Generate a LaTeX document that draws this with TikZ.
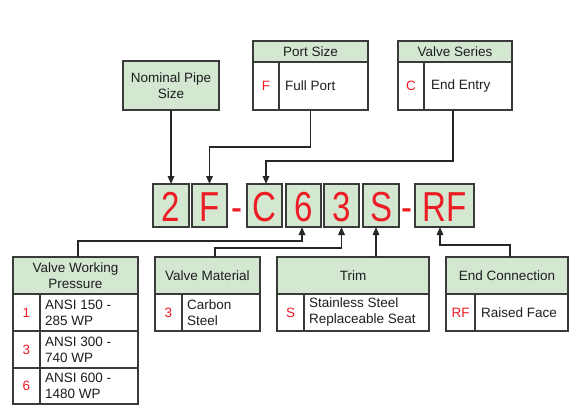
\documentclass[tikz,border=0pt]{standalone}
\usepackage{fontspec}
\setmainfont{Liberation Sans}
\usetikzlibrary{arrows.meta}
\definecolor{hdr}{HTML}{D3E7D1}
\definecolor{codered}{HTML}{EC1C24}
\definecolor{edge}{HTML}{3A3A3A}
\definecolor{ink}{HTML}{1E1E1E}
\newcommand{\cellat}[7]{%
  \pgfmathsetmacro{\cx}{(#3+#5)/2}\pgfmathsetmacro{\cy}{(#4+#6)/2}%
  \pgfmathsetmacro{\cw}{#5-#3}\pgfmathsetmacro{\ch}{#6-#4}%
  \node[#1, minimum width=\cw pt, minimum height=\ch pt] (#2) at (\cx,\cy) {#7};}
\newcommand{\bigch}[1]{\scalebox{1}[1.27]{\fontsize{33}{33}\selectfont #1}}
\tikzset{
  x=1pt, y=-1pt,
  cell/.style={draw=edge, line width=1.6pt, inner sep=0pt, outer sep=0pt, fill=white,
    text=ink, align=center, font=\fontsize{13.5}{16}\selectfont},
  hcell/.style={cell, fill=hdr},
  frame/.style={inner sep=0pt, outer sep=0pt},
  code/.style={text=codered, font=\fontsize{13.5}{16}\selectfont, inner sep=0pt},
  desc/.style={text=ink, font=\fontsize{13.5}{16}\selectfont, anchor=west, align=left, inner sep=0pt},
  letter/.style={text=codered, inner sep=0pt, anchor=base},
  conn/.style={draw=black!85, line width=1.6pt},
  arr/.style={conn, -{Triangle[length=8pt,width=6.5pt]}},
}
\begin{document}
\begin{tikzpicture}
\useasboundingbox (0,0) rectangle (580,412);

% ---- Nominal Pipe Size
\cellat{hcell}{nps}{123}{61}{219}{110}{Nominal Pipe\\Size}

% ---- Port Size
\cellat{frame}{portsz}{253}{41}{368}{110}{}
\cellat{hcell}{portH}{253}{41}{368}{62}{Port Size}
\cellat{cell}{portC}{253}{62}{279}{110}{}
\cellat{cell}{portD}{279}{62}{368}{110}{}
\node[code] (portCt) at (portC.center) {F};
\node[desc] (portDt) at (285,86) {Full Port};

% ---- Valve Series
\cellat{frame}{series}{398}{41}{512}{110}{}
\cellat{hcell}{serH}{398}{41}{512}{62}{Valve Series}
\cellat{cell}{serC}{398}{62}{424}{110}{}
\cellat{cell}{serD}{424}{62}{512}{110}{}
\node[code] (serCt) at (serC.center) {C};
\node[desc] (serDt) at (431,86) {End Entry};

% ---- Code boxes
\cellat{hcell}{d2}{153}{184}{189}{227}{}
\cellat{hcell}{dF}{192}{184}{227}{227}{}
\cellat{hcell}{dC}{247}{184}{282}{227}{}
\cellat{hcell}{d6}{286}{184}{321}{227}{}
\cellat{hcell}{d3}{324}{184}{359}{227}{}
\cellat{hcell}{dS}{363}{184}{399}{227}{}
\cellat{hcell}{dRF}{415}{184}{474}{227}{}
\node[letter] (l2) at (171,221) {\bigch{2}};
\node[letter] (lF) at (209.5,221) {\bigch{F}};
\node[letter] (dash1) at (237,221) {\bigch{-}};
\node[letter] (lC) at (264.5,221) {\bigch{C}};
\node[letter] (l6) at (303.5,221) {\bigch{6}};
\node[letter] (l3) at (341.5,221) {\bigch{3}};
\node[letter] (lS) at (381,221) {\bigch{S}};
\node[letter] (dash2) at (407,221) {\bigch{-}};
\node[letter] (lRF) at (444.5,221) {\bigch{RF}};

% ---- Valve Working Pressure
\cellat{frame}{vwp}{13}{257}{138}{404}{}
\cellat{hcell}{vwpH}{13}{257}{138}{294}{Valve Working\\Pressure}
\cellat{cell}{vwpC1}{13}{294}{40}{331}{}
\cellat{cell}{vwpD1}{40}{294}{138}{331}{}
\cellat{cell}{vwpC2}{13}{331}{40}{368}{}
\cellat{cell}{vwpD2}{40}{331}{138}{368}{}
\cellat{cell}{vwpC3}{13}{368}{40}{404}{}
\cellat{cell}{vwpD3}{40}{368}{138}{404}{}
\node[code] (vwpC1t) at (vwpC1.center) {1};
\node[code] (vwpC2t) at (vwpC2.center) {3};
\node[code] (vwpC3t) at (vwpC3.center) {6};
\node[desc] (vwpD1t) at (45,312.5) {ANSI 150 -\\285 WP};
\node[desc] (vwpD2t) at (45,349.5) {ANSI 300 -\\740 WP};
\node[desc] (vwpD3t) at (45,386) {ANSI 600 -\\1480 WP};

% ---- Valve Material
\cellat{frame}{vm}{155}{257}{260}{331}{}
\cellat{hcell}{vmH}{155}{257}{260}{294}{Valve Material}
\cellat{cell}{vmC}{155}{294}{182}{331}{}
\cellat{cell}{vmD}{182}{294}{260}{331}{}
\node[code] (vmCt) at (vmC.center) {3};
\node[desc] (vmDt) at (187,312.5) {Carbon\\Steel};

% ---- Trim
\cellat{frame}{trim}{277}{257}{429}{331}{}
\cellat{hcell}{trimH}{277}{257}{429}{294}{Trim}
\cellat{cell}{trimC}{277}{294}{304}{331}{}
\cellat{cell}{trimD}{304}{294}{429}{331}{}
\node[code] (trimCt) at (trimC.center) {S};
\node[desc] (trimDt) at (309,312.5) {Stainless Steel\\Replaceable Seat};

% ---- End Connection
\cellat{frame}{ec}{446}{257}{568}{331}{}
\cellat{hcell}{ecH}{446}{257}{568}{294}{End Connection}
\cellat{cell}{ecC}{446}{294}{475}{331}{}
\cellat{cell}{ecD}{475}{294}{568}{331}{}
\node[code] (ecCt) at (ecC.center) {RF};
\node[desc] (ecDt) at (481,312.5) {Raised Face};

% ---- Connectors (top)
\draw[arr] (nps.south) -- (d2.north);
\draw[arr] (portsz.south) |- ([yshift=37pt]dF.north) -- (dF.north);
\draw[arr] ([xshift=-2pt]series.south) |- ([yshift=23pt,xshift=1.5pt]dC.north) -- ([xshift=1.5pt]dC.north);

% ---- Connectors (bottom)
\coordinate (in6) at ([xshift=-1.5pt]d6.south);
\coordinate (in3) at (d3.south);
\coordinate (inS) at ([xshift=-5pt]dS.south);
\coordinate (inRF) at ([xshift=-4.5pt]dRF.south);
\coordinate (vwpTop) at ([xshift=2.5pt]vwp.north);
\coordinate (vmTop) at ([xshift=7.5pt]vm.north);
\coordinate (ecTop) at ([xshift=3pt]ec.north);
\draw[arr] (vwpTop) |- ([yshift=-14pt]in6) -- (in6);
\draw[arr] (vmTop) |- ([yshift=-21pt]in3) -- (in3);
\draw[arr] (inS |- trim.north) -- (inS);
\draw[arr] (ecTop) |- ([yshift=-18pt]inRF) -- (inRF);
\end{tikzpicture}
\end{document}
